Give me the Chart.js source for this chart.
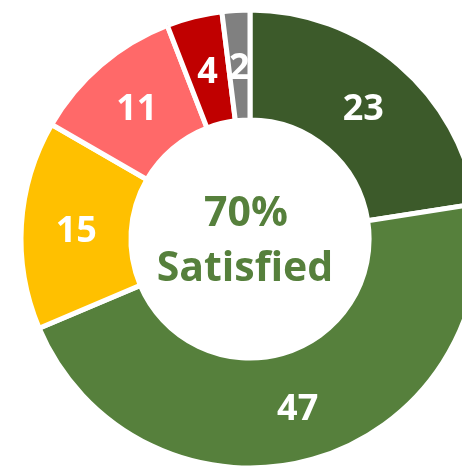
<!DOCTYPE html>
<html>
<head>
<meta charset="utf-8">
<script src="https://cdn.jsdelivr.net/npm/chart.js@4"></script>
<style>
    html, body { margin: 0; padding: 0; background: #fff; overflow: hidden; }
    #wrap { position: relative; width: 462px; height: 467px; }
</style>
</head>
<body>
<div id="wrap"><canvas id="satisfactionChart" width="462" height="467"></canvas></div>
<script>
// Data
const categories = ['Very satisfied', 'Satisfied', 'Neutral', 'Dissatisfied', 'Very dissatisfied', 'No answer'];
const responses = [23, 47, 15, 11, 4, 2];
const sliceColors = ['#3C5A2A', '#56803C', '#FFC000', '#FF6969', '#C00000', '#808080'];
const centerLines = ['70%', 'Satisfied'];

const fontFamily = '"Open Sans", "Noto Sans", sans-serif';

// Values drawn inside each slice
const sliceLabels = {
    id: 'sliceLabels',
    afterDatasetsDraw(chart) {
        const ctx = chart.ctx;
        const meta = chart.getDatasetMeta(0);
        ctx.save();
        ctx.fillStyle = '#ffffff';
        ctx.font = 'bold 36px ' + fontFamily;
        ctx.textAlign = 'center';
        ctx.textBaseline = 'middle';
        meta.data.forEach((arc, i) => {
            const pos = arc.tooltipPosition();
            ctx.fillText(String(chart.data.datasets[0].data[i]), pos.x, pos.y + 3);
        });
        ctx.restore();
    }
};

// Text in the hole
const centerText = {
    id: 'centerText',
    afterDatasetsDraw(chart) {
        const ctx = chart.ctx;
        const arc = chart.getDatasetMeta(0).data[0];
        ctx.save();
        ctx.fillStyle = '#56803C';
        ctx.font = 'bold 41px ' + fontFamily;
        ctx.textAlign = 'center';
        ctx.textBaseline = 'middle';
        ctx.fillText(centerLines[0], arc.x - 4, arc.y - 25);
        ctx.fillText(centerLines[1], arc.x - 5, arc.y + 30);
        ctx.restore();
    }
};

new Chart(document.getElementById('satisfactionChart').getContext('2d'), {
    type: 'doughnut',
    data: {
        labels: categories,
        datasets: [{
            data: responses,
            backgroundColor: sliceColors,
            borderColor: '#ffffff',
            borderWidth: 5,
            hoverOffset: 0
        }]
    },
    options: {
        responsive: false,
        animation: false,
        radius: 229,
        cutout: '52%',
        layout: { padding: { left: 38, top: 11, right: 0, bottom: 0 } },
        plugins: {
            legend: { display: false },
            tooltip: { enabled: false }
        }
    },
    plugins: [sliceLabels, centerText]
});
</script>
</body>
</html>
